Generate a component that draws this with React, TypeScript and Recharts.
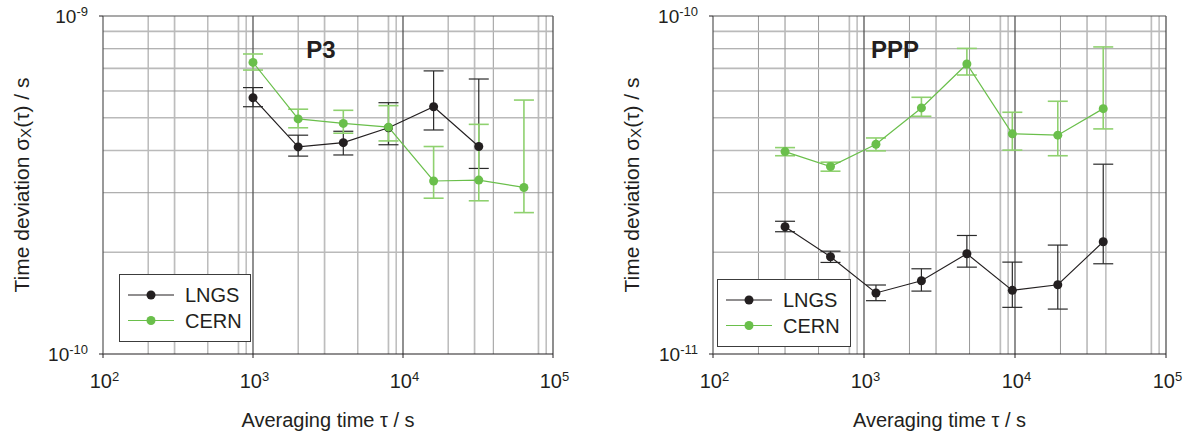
import { LineChart, Line, XAxis, YAxis, CartesianGrid, ErrorBar, Label } from 'recharts'

const FONT = '"Liberation Sans", Arial, Helvetica, sans-serif'
const INK = '#231f20'
const GREEN = '#6abf4b'
const GREEN_ERR = '#8fd16f'

// axis ticks
const xTicks = [100, 1000, 10000, 100000]
const xDecades = [100, 1000, 10000]
const mantissas = [2, 3, 4, 5, 6, 7, 8, 9]
const lightMantissas = [3, 7, 8]
const lightYMantissas = [2, 4, 5, 7, 9]

// P3 panel (s)
const p3LngsTau = [1000, 2000, 4000, 8000, 16000, 32000]
const p3LngsSigma = [5.73e-10, 4.1e-10, 4.22e-10, 4.67e-10, 5.39e-10, 4.11e-10]
const p3LngsLow = [5.39e-10, 3.85e-10, 3.88e-10, 4.16e-10, 4.6e-10, 3.54e-10]
const p3LngsHigh = [6.14e-10, 4.44e-10, 4.56e-10, 5.54e-10, 6.88e-10, 6.51e-10]

const p3CernTau = [1000, 2000, 4000, 8000, 16000, 32000, 64000]
const p3CernSigma = [7.29e-10, 4.96e-10, 4.81e-10, 4.69e-10, 3.25e-10, 3.27e-10, 3.11e-10]
const p3CernLow = [6.92e-10, 4.67e-10, 4.5e-10, 4.27e-10, 2.89e-10, 2.84e-10, 2.62e-10]
const p3CernHigh = [7.72e-10, 5.3e-10, 5.26e-10, 5.43e-10, 4.11e-10, 4.78e-10, 5.64e-10]

// PPP panel (s)
const pppTau = [300, 600, 1200, 2400, 4800, 9600, 19200, 38400]
const pppLngsSigma = [2.38e-11, 1.94e-11, 1.515e-11, 1.647e-11, 1.98e-11, 1.543e-11, 1.603e-11, 2.148e-11]
const pppLngsLow = [2.3e-11, 1.866e-11, 1.438e-11, 1.535e-11, 1.807e-11, 1.374e-11, 1.358e-11, 1.849e-11]
const pppLngsHigh = [2.47e-11, 2.015e-11, 1.6e-11, 1.787e-11, 2.242e-11, 1.87e-11, 2.1e-11, 3.644e-11]

const pppCernSigma = [3.97e-11, 3.587e-11, 4.175e-11, 5.346e-11, 7.21e-11, 4.48e-11, 4.44e-11, 5.32e-11]
const pppCernLow = [3.86e-11, 3.474e-11, 3.99e-11, 5.05e-11, 6.69e-11, 4.01e-11, 3.86e-11, 4.634e-11]
const pppCernHigh = [4.08e-11, 3.694e-11, 4.357e-11, 5.748e-11, 8.02e-11, 5.19e-11, 5.594e-11, 8.1e-11]

const rows = (tau: number[], sigma: number[], low: number[], high: number[]) =>
  tau.map((t, i) => ({ tau: t, sigma: sigma[i], err: [sigma[i] - low[i], high[i] - sigma[i]] }))

const minor = (decades: number[], ms: number[]) => decades.flatMap((d) => ms.map((m) => m * d))

const XTick = ({ x, y, payload }: any) => (
  <text x={x + 1.5} y={y + 28} textAnchor="middle" fontFamily={FONT} fontSize={20} fill={INK}>
    10
    <tspan dy={-7} fontSize={13}>{Math.round(Math.log10(payload.value))}</tspan>
  </text>
)

const YTick = ({ x, y, payload }: any) => (
  <text x={x - 9} y={y + 7} textAnchor="end" fontFamily={FONT} fontSize={19} fill={INK}>
    10
    <tspan dy={-7} fontSize={13}>{Math.round(Math.log10(payload.value))}</tspan>
  </text>
)

type PanelCfg = {
  left: number
  width: number
  margin: { top: number; right: number; bottom: number; left: number }
  title: string
  titleOffset: number
  yDecade: number
  lngs: any[]
  cern: any[]
  legend: { x: number; y: number; w: number; h: number }
}

function LegendBox({ x, y, w, h }: { x: number; y: number; w: number; h: number }) {
  const items = [
    { name: 'LNGS', color: INK },
    { name: 'CERN', color: GREEN },
  ]
  return (
    <svg width={w} height={h} style={{ position: 'absolute', left: x, top: y }}>
      <rect x={0.5} y={0.5} width={w - 1} height={h - 1} fill="#fff" stroke="#3c3c3c" strokeWidth={1} />
      {items.map((it, i) => {
        const cy = 21 + i * 25.5
        return (
          <g key={it.name}>
            <line x1={9} x2={55} y1={cy} y2={cy} stroke={it.color} strokeWidth={1.2} />
            <circle cx={32} cy={cy} r={4.5} fill={it.color} />
            <text x={66} y={cy + 7} fontFamily={FONT} fontSize={20} fill={INK}>
              {it.name}
            </text>
          </g>
        )
      })}
    </svg>
  )
}

function Panel({ cfg }: { cfg: PanelCfg }) {
  const d = cfg.yDecade
  const yDomain = [d, d * 10]
  const yLight = lightYMantissas.map((m) => m * d)
  const yDark = mantissas.filter((m) => !lightYMantissas.includes(m)).map((m) => m * d)
  const xLight = minor(xDecades, lightMantissas)
  const xDark = minor(xDecades, mantissas.filter((m) => !lightMantissas.includes(m)))

  return (
    <div style={{ position: 'absolute', left: cfg.left, top: 0, width: cfg.width, height: 436 }}>
      <LineChart width={cfg.width} height={436} margin={cfg.margin}>
        <CartesianGrid horizontal={false} verticalValues={xLight} stroke="#bdbdbd" strokeWidth={1.7} />
        <CartesianGrid horizontal={false} verticalValues={xDark} stroke="#999" strokeWidth={1} />
        <CartesianGrid vertical={false} horizontalValues={yLight} stroke="#bababa" strokeWidth={1.7} />
        <CartesianGrid vertical={false} horizontalValues={yDark} stroke="#999" strokeWidth={1} />
        <CartesianGrid horizontal={false} verticalValues={[1000, 10000]} stroke="#555" strokeWidth={1.3} />
        <CartesianGrid horizontal={false} verticalValues={[100000]} stroke="#444" strokeWidth={1.2} />
        <CartesianGrid vertical={false} horizontalValues={[d * 10]} stroke="#555" strokeWidth={1.2} />
        <XAxis
          type="number"
          dataKey="tau"
          scale="log"
          domain={[100, 100000]}
          ticks={xTicks}
          allowDataOverflow
          height={30}
          tickSize={4}
          tick={<XTick />}
          axisLine={{ stroke: INK, strokeWidth: 1.2 }}
          tickLine={{ stroke: INK }}
        >
          <Label
            content={({ viewBox }: any) => (
              <text
                x={viewBox.x + viewBox.width / 2}
                y={viewBox.y + 73}
                textAnchor="middle"
                fontFamily={FONT}
                fontSize={20}
                fill={INK}
              >
                Averaging time τ / s
              </text>
            )}
          />
        </XAxis>
        <YAxis
          type="number"
          scale="log"
          domain={yDomain}
          ticks={yDomain}
          allowDataOverflow
          width={30}
          tickSize={4}
          tick={<YTick />}
          axisLine={{ stroke: '#555', strokeWidth: 1.2 }}
          tickLine={{ stroke: INK }}
        >
          <Label
            content={({ viewBox }: any) => {
              const cx = viewBox.x + viewBox.width - 82
              const cy = viewBox.y + viewBox.height / 2
              return (
                <text
                  transform={`translate(${cx},${cy}) rotate(-90)`}
                  textAnchor="middle"
                  dominantBaseline="central"
                  fontFamily={FONT}
                  fontSize={21}
                  fill={INK}
                >
                  Time deviation σ
                  <tspan fontSize={15} dy={4}>X</tspan>
                  <tspan dy={-4}>(τ) / s</tspan>
                </text>
              )
            }}
          />
          <Label
            content={({ viewBox }: any) => (
              <text
                x={viewBox.x + viewBox.width + cfg.titleOffset}
                y={viewBox.y + 42}
                textAnchor="middle"
                fontFamily={FONT}
                fontSize={24}
                fontWeight="bold"
                fill={INK}
              >
                {cfg.title}
              </text>
            )}
          />
        </YAxis>
        <Line
          data={cfg.lngs}
          dataKey="sigma"
          stroke={INK}
          strokeWidth={1.1}
          dot={{ r: 4.5, fill: INK, stroke: INK, strokeWidth: 0 }}
          activeDot={false}
          isAnimationActive={false}
        >
          <ErrorBar dataKey="err" direction="y" width={10} stroke="#2a2a2a" strokeWidth={1.2} />
        </Line>
        <Line
          data={cfg.cern}
          dataKey="sigma"
          stroke={GREEN}
          strokeWidth={1.2}
          dot={{ r: 4.5, fill: GREEN, stroke: GREEN, strokeWidth: 0 }}
          activeDot={false}
          isAnimationActive={false}
        >
          <ErrorBar dataKey="err" direction="y" width={10} stroke={GREEN_ERR} strokeWidth={1.6} />
        </Line>
      </LineChart>
      <LegendBox {...cfg.legend} />
    </div>
  )
}

const panels: PanelCfg[] = [
  {
    left: 0,
    width: 600,
    margin: { top: 16, right: 47, bottom: 52, left: 73 },
    title: 'P3',
    titleOffset: 218,
    yDecade: 1e-10,
    lngs: rows(p3LngsTau, p3LngsSigma, p3LngsLow, p3LngsHigh),
    cern: rows(p3CernTau, p3CernSigma, p3CernLow, p3CernHigh),
    legend: { x: 119, y: 274, w: 132, h: 68 },
  },
  {
    left: 600,
    width: 590,
    margin: { top: 16, right: 24, bottom: 52, left: 83 },
    title: 'PPP',
    titleOffset: 182,
    yDecade: 1e-11,
    lngs: rows(pppTau, pppLngsSigma, pppLngsLow, pppLngsHigh),
    cern: rows(pppTau, pppCernSigma, pppCernLow, pppCernHigh),
    legend: { x: 117, y: 279, w: 134, h: 68 },
  },
]

export default function App() {
  return (
    <div style={{ position: 'absolute', left: 0, top: 0, width: 1190, height: 436, background: '#fff' }}>
      {panels.map((p) => (
        <Panel key={p.title} cfg={p} />
      ))}
    </div>
  )
}
